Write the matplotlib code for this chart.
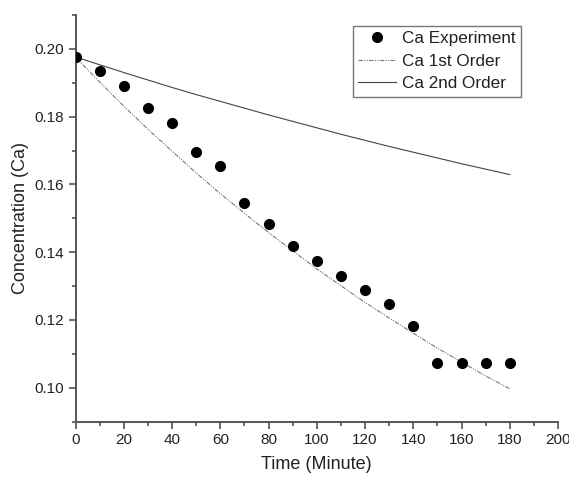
import matplotlib
matplotlib.use("Agg")
import matplotlib.pyplot as plt
from matplotlib.ticker import MultipleLocator

plt.rcParams['font.family'] = ['Liberation Sans', 'DejaVu Sans']

# measured concentration
t_exp = [0, 10, 20, 30, 40, 50, 60, 70, 80, 90, 100, 110, 120, 130, 140, 150, 160, 170, 180]
ca_exp = [0.1976, 0.1934, 0.1891, 0.1826, 0.1782, 0.1697, 0.1654, 0.1546, 0.1482, 0.1418,
          0.1374, 0.1331, 0.1289, 0.1246, 0.1182, 0.1074, 0.1074, 0.1074, 0.1074]

# model curves
t_mod = [0, 10, 20, 30, 40, 50, 60, 70, 80, 90, 100, 110, 120, 130, 140, 150, 160, 170, 180]
ca_1st = [0.1976, 0.1902, 0.1831, 0.1763, 0.1698, 0.1634, 0.1573, 0.1515, 0.1458, 0.1404,
          0.1351, 0.1301, 0.1252, 0.1206, 0.1161, 0.1117, 0.1076, 0.1035, 0.0997]
ca_2nd = [0.1976, 0.1953, 0.1930, 0.1908, 0.1886, 0.1865, 0.1845, 0.1825, 0.1805, 0.1786,
          0.1767, 0.1748, 0.1730, 0.1712, 0.1695, 0.1678, 0.1661, 0.1645, 0.1629]

fig = plt.figure(figsize=(5.69, 4.78), dpi=100)
ax = fig.add_axes([0.1327, 0.1178, 0.848, 0.851])

ax.plot(t_exp, ca_exp, 'o', color='black', markersize=7, label='Ca Experiment', zorder=3)
ax.plot(t_mod, ca_1st, color='#777777', linewidth=0.8, linestyle=(0, (4, 1.2, 1, 1.2, 1, 1.2)),
        label='Ca 1st Order')
ax.plot(t_mod, ca_2nd, color='#444444', linewidth=0.8, label='Ca 2nd Order')

ax.set_xlim(0, 200)
ax.set_ylim(0.09, 0.21)
ax.xaxis.set_major_locator(MultipleLocator(20))
ax.xaxis.set_minor_locator(MultipleLocator(10))
ax.yaxis.set_minor_locator(MultipleLocator(0.01))
ax.yaxis.set_major_formatter(matplotlib.ticker.FormatStrFormatter('%.2f'))
ax.set_yticks([0.10, 0.12, 0.14, 0.16, 0.18, 0.20])

for s in ['top', 'right']:
    ax.spines[s].set_visible(False)
for s in ['left', 'bottom']:
    ax.spines[s].set_color('#555555')
    ax.spines[s].set_linewidth(1.4)

ax.tick_params(which='major', direction='out', length=5, width=1.2, color='#555555',
               labelsize=11, labelcolor='#222222')
ax.tick_params(which='minor', direction='out', length=3, width=1.2, color='#555555')

ax.set_xlabel('Time (Minute)', fontsize=13, color='#222222', labelpad=6)
ax.set_ylabel('Concentration (Ca)', fontsize=13, color='#222222')

leg = ax.legend(loc='upper left', bbox_to_anchor=(0.575, 0.973), fontsize=12.3,
                frameon=True, fancybox=False, edgecolor='#555555', borderpad=0.3,
                handlelength=2.2, handletextpad=0.4, labelspacing=0.45, borderaxespad=0)
leg.get_frame().set_linewidth(1.0)
for txt in leg.get_texts():
    txt.set_color('#222222')

fig.savefig('out.png', dpi=100)
